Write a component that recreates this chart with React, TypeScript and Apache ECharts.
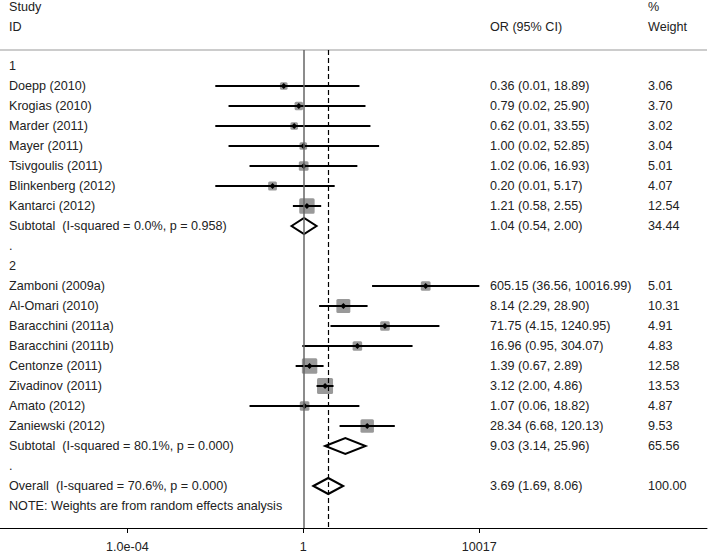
import React, { useEffect, useRef } from "react";
import * as echarts from "echarts";

// ---------------- data ----------------
const studyNames = [
  "Doepp (2010)",
  "Krogias (2010)",
  "Marder (2011)",
  "Mayer (2011)",
  "Tsivgoulis (2011)",
  "Blinkenberg (2012)",
  "Kantarci (2012)",
  "Zamboni (2009a)",
  "Al-Omari (2010)",
  "Baracchini (2011a)",
  "Baracchini (2011b)",
  "Centonze (2011)",
  "Zivadinov (2011)",
  "Amato (2012)",
  "Zaniewski (2012)",
];
const studyGroups = [1, 1, 1, 1, 1, 1, 1, 2, 2, 2, 2, 2, 2, 2, 2];
const studyOR = [0.36, 0.79, 0.62, 1.0, 1.02, 0.2, 1.21, 605.15, 8.14, 71.75, 16.96, 1.39, 3.12, 1.07, 28.34];
const studyLower = [0.01, 0.02, 0.01, 0.02, 0.06, 0.01, 0.58, 36.56, 2.29, 4.15, 0.95, 0.67, 2.0, 0.06, 6.68];
const studyUpper = [18.89, 25.9, 33.55, 52.85, 16.93, 5.17, 2.55, 10016.99, 28.9, 1240.95, 304.07, 2.89, 4.86, 18.82, 120.13];
const studyWeights = [3.06, 3.7, 3.02, 3.04, 5.01, 4.07, 12.54, 5.01, 10.31, 4.91, 4.83, 12.58, 13.53, 4.87, 9.53];

const groupIds = [1, 2];
const subtotalLabels = [
  "Subtotal  (I-squared = 0.0%, p = 0.958)",
  "Subtotal  (I-squared = 80.1%, p = 0.000)",
];
const subtotalOR = [1.04, 9.03];
const subtotalLower = [0.54, 3.14];
const subtotalUpper = [2.0, 25.96];
const subtotalWeights = [34.44, 65.56];

const overallLabel = "Overall  (I-squared = 70.6%, p = 0.000)";
const overallOR = 3.69;
const overallLower = 1.69;
const overallUpper = 8.06;
const overallWeight = 100.0;

const noteText = "NOTE: Weights are from random effects analysis";

const tickValues = [0.0001, 1, 10017];
const tickLabels = ["1.0e-04", "1", "10017"];

// ---------------- rows ----------------
type Row = {
  kind: "group" | "study" | "subtotal" | "blank" | "overall" | "note";
  label: string;
  or?: number;
  lo?: number;
  hi?: number;
  w?: number;
};

const rows: Row[] = [];
groupIds.forEach((g, gi) => {
  rows.push({ kind: "group", label: String(g) });
  studyNames.forEach((name, i) => {
    if (studyGroups[i] === g) {
      rows.push({ kind: "study", label: name, or: studyOR[i], lo: studyLower[i], hi: studyUpper[i], w: studyWeights[i] });
    }
  });
  rows.push({ kind: "subtotal", label: subtotalLabels[gi], or: subtotalOR[gi], lo: subtotalLower[gi], hi: subtotalUpper[gi], w: subtotalWeights[gi] });
  rows.push({ kind: "blank", label: "." });
});
rows.push({ kind: "overall", label: overallLabel, or: overallOR, lo: overallLower, hi: overallUpper, w: overallWeight });
rows.push({ kind: "note", label: noteText });

const lg = (v: number) => Math.log10(v);
const fmt = (v: number) => v.toFixed(2);

const FONT = "'Liberation Sans', Arial, sans-serif";
const FS = 12.6;
const TXT = "#222";

const COL_STUDY = 9;
const COL_OR = 490;
const COL_W = 648;

export default function App() {
  const ref = useRef<HTMLDivElement>(null);

  useEffect(() => {
    if (!ref.current) return;
    const chart = echarts.init(ref.current, undefined, { renderer: "svg" });

    const textData = rows.map((_, i) => [0, i]);
    const studyData: number[][] = [];
    const diamondData: number[][] = [];
    rows.forEach((r, i) => {
      if (r.kind === "study") studyData.push([lg(r.or!), i, lg(r.lo!), lg(r.hi!), r.w!]);
      if (r.kind === "subtotal" || r.kind === "overall") diamondData.push([lg(r.or!), i, lg(r.lo!), lg(r.hi!)]);
    });

    const option: any = {
      animation: false,
      backgroundColor: "#fff",
      grid: { left: 0, right: 1, top: 50, bottom: 26, containLabel: false },
      xAxis: {
        type: "value",
        min: -6.893,
        max: 9.175,
        axisLine: { show: true, onZero: false, lineStyle: { color: "#000", width: 1 } },
        axisTick: {
          show: true,
          length: 5,
          customValues: tickValues.map(lg),
          lineStyle: { color: "#000", width: 1 },
        },
        axisLabel: {
          show: true,
          customValues: tickValues.map(lg),
          margin: 12,
          color: TXT,
          fontSize: FS,
          fontFamily: FONT,
          formatter: (v: number) => {
            const idx = tickValues.findIndex((t) => Math.abs(lg(t) - v) < 1e-6);
            return idx >= 0 ? tickLabels[idx] : "";
          },
        },
        splitLine: { show: false },
      },
      yAxis: {
        type: "value",
        inverse: true,
        min: -0.8,
        max: 23.1,
        show: false,
        axisLine: { show: false, onZero: false },
        splitLine: { show: false },
      },
      graphic: [
        { type: "text", left: COL_STUDY, top: 0, style: { text: "Study", fill: TXT, font: `${FS}px ${FONT}` } },
        { type: "text", left: COL_STUDY, top: 20, style: { text: "ID", fill: TXT, font: `${FS}px ${FONT}` } },
        { type: "text", left: COL_OR, top: 20, style: { text: "OR (95% CI)", fill: TXT, font: `${FS}px ${FONT}` } },
        { type: "text", left: COL_W, top: 0, style: { text: "%", fill: TXT, font: `${FS}px ${FONT}` } },
        { type: "text", left: COL_W, top: 20, style: { text: "Weight", fill: TXT, font: `${FS}px ${FONT}` } },
        {
          type: "line",
          shape: { x1: 0, y1: 50, x2: 707, y2: 50 },
          style: { stroke: "#999", lineWidth: 1 },
        },
      ],
      series: [
        {
          type: "custom",
          name: "marks",
          coordinateSystem: "cartesian2d",
          data: studyData,
          encode: { x: 0, y: 1 },
          z: 3,
          renderItem: (params: any, api: any) => {
            const row = api.value(1);
            const p = api.coord([api.value(0), row]);
            const lo = api.coord([api.value(2), row]);
            const hi = api.coord([api.value(3), row]);
            const side = 4.35 * Math.sqrt(api.value(4));
            const d = 3;
            return {
              type: "group",
              children: [
                {
                  type: "rect",
                  shape: { x: p[0] - side / 2, y: p[1] - side / 2, width: side, height: side, r: 1.5 },
                  style: { fill: "#999" },
                },
                {
                  type: "line",
                  shape: { x1: lo[0], y1: lo[1], x2: hi[0], y2: hi[1] },
                  style: { stroke: "#000", lineWidth: 2 },
                },
                {
                  type: "polygon",
                  shape: { points: [[p[0] - d, p[1]], [p[0], p[1] - d], [p[0] + d, p[1]], [p[0], p[1] + d]] },
                  style: { fill: "#000" },
                },
              ],
            };
          },
        },
        {
          type: "custom",
          name: "diamonds",
          coordinateSystem: "cartesian2d",
          data: diamondData,
          encode: { x: 0, y: 1 },
          z: 3,
          renderItem: (params: any, api: any) => {
            const row = api.value(1);
            const p = api.coord([api.value(0), row]);
            const lo = api.coord([api.value(2), row]);
            const hi = api.coord([api.value(3), row]);
            const h = 8;
            return {
              type: "polygon",
              shape: { points: [[lo[0], p[1]], [p[0], p[1] - h], [hi[0], p[1]], [p[0], p[1] + h]] },
              style: { fill: "none", stroke: "#000", lineWidth: 2, lineJoin: "miter" },
            };
          },
          markLine: {
            silent: true,
            symbol: ["none", "none"],
            label: { show: false },
            data: [
              { xAxis: 0, lineStyle: { color: "#666", width: 1.5, type: "solid" } },
              { xAxis: lg(overallOR), lineStyle: { color: "#000", width: 1.2, type: [5, 3] } },
            ],
          },
        },
        {
          type: "custom",
          name: "texts",
          coordinateSystem: "cartesian2d",
          data: textData,
          encode: { x: 0, y: 1 },
          z: 4,
          renderItem: (params: any, api: any) => {
            const i = params.dataIndex;
            const r = rows[i];
            const y = api.coord([0, api.value(1)])[1];
            const mk = (text: string, x: number) => ({
              type: "text",
              style: {
                text,
                x,
                y,
                fill: TXT,
                fontSize: FS,
                fontFamily: FONT,
                align: "left",
                verticalAlign: "middle",
              },
            });
            const children: any[] = [mk(r.label, COL_STUDY)];
            if (r.or !== undefined) {
              children.push(mk(`${fmt(r.or)} (${fmt(r.lo!)}, ${fmt(r.hi!)})`, COL_OR));
              children.push(mk(fmt(r.w!), COL_W));
            }
            return { type: "group", children };
          },
        },
      ],
    };

    chart.setOption(option);
    return () => chart.dispose();
  }, []);

  return (
    <div
      ref={ref}
      style={{ position: "fixed", left: 0, top: 0, width: 708, height: 554, background: "#fff" }}
    />
  );
}
